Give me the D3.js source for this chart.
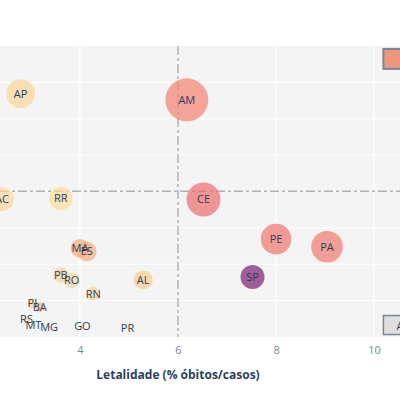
<!DOCTYPE html>
<html>
<head>
<meta charset="utf-8">
<script src="https://cdn.jsdelivr.net/npm/d3@7"></script>
<style>
  body { margin: 0; background: #fff; }
  text { font-family: "Open Sans", sans-serif; }
</style>
</head>
<body>
<div id="canvas"></div>
<script>
// estados, letalidade (%), incidencia, mortalidade (tamanho) e obitos (cor)
const estados = ['AP', 'AM', 'AC', 'RR', 'CE', 'PE', 'PA', 'SP', 'MA', 'ES', 'PB', 'RO', 'RN', 'AL', 'PI', 'BA', 'RS', 'MT', 'MG', 'GO', 'PR'];
const letalidade = [2.79, 6.18, 2.41, 3.61, 6.52, 8.00, 9.04, 7.52, 4.00, 4.14, 3.61, 3.83, 4.27, 5.29, 3.03, 3.18, 2.91, 3.05, 3.37, 4.05, 4.97];
const incidencia = [66.9, 65.2, 37.9, 38.1, 37.8, 26.9, 24.8, 16.5, 24.4, 23.5, 17.0, 15.6, 11.9, 15.7, 9.2, 8.2, 4.9, 3.3, 2.7, 3.1, 2.6];
const mortalidade = [182, 411, 124, 122, 257, 208, 222, 128, 78, 84, 52, 50, 42, 80, 22, 22, 8, 5.6, 2, 2, 1.3];
const obitos = [0.3, 3.1, 0.2, 0.1, 3.9, 3.6, 3.4, 10.6, 1.6, 1.5, 0.4, 0.3, 0.3, 0.6, 0.2, 0.9, 0.3, 0.1, 0.5, 0.1, 0.2];

const xTicks = [2, 4, 6, 8, 10];
const yTicks = [10, 20, 30, 40, 50, 60, 70];
const mediaLetalidade = 6.0;
const mediaIncidencia = 40.1;

const sunsetdark = ['rgb(252,222,156)', 'rgb(250,164,118)', 'rgb(240,116,110)', 'rgb(227,79,111)', 'rgb(220,57,119)', 'rgb(185,37,122)', 'rgb(124,29,111)'];

const data = estados.map((uf, i) => ({
    uf: uf, x: letalidade[i], y: incidencia[i], size: mortalidade[i], c: obitos[i]
}));

const width = 400, height = 400;
const canvas = d3.select('#canvas').append('svg').attr('width', width).attr('height', height);

const x = d3.scaleLinear().domain([0.9, 11.1]).range([-72, 428]);
const y = d3.scaleLinear().domain([0, 80]).range([337, 46]);
const r = d3.scaleSqrt().domain([0, 1]).range([0, 1.06]);
const cMax = d3.max(obitos);
const color = d3.scaleLinear()
    .domain(sunsetdark.map((d, i) => i / (sunsetdark.length - 1) * cMax))
    .range(sunsetdark)
    .interpolate(d3.interpolateRgb);

canvas.append('rect')
    .attr('x', x.range()[0]).attr('y', y.range()[1])
    .attr('width', x.range()[1] - x.range()[0])
    .attr('height', y.range()[0] - y.range()[1])
    .attr('fill', '#f4f4f4');

const grid = canvas.append('g');
grid.selectAll('.vx').data(xTicks).join('line')
    .attr('x1', d => x(d)).attr('x2', d => x(d))
    .attr('y1', y.range()[1]).attr('y2', y.range()[0])
    .attr('stroke', '#ffffff').attr('stroke-width', 1);
grid.selectAll('.hy').data(yTicks).join('line')
    .attr('x1', x.range()[0]).attr('x2', x.range()[1])
    .attr('y1', d => y(d)).attr('y2', d => y(d))
    .attr('stroke', '#ffffff').attr('stroke-width', 1);

// linhas de media
canvas.append('line')
    .attr('x1', x(mediaLetalidade)).attr('x2', x(mediaLetalidade))
    .attr('y1', y.range()[1]).attr('y2', y.range()[0])
    .attr('stroke', '#b0b0b0').attr('stroke-width', 1.5)
    .attr('stroke-dasharray', '9 3 3 3');
canvas.append('line')
    .attr('x1', x.range()[0]).attr('x2', x.range()[1])
    .attr('y1', y(mediaIncidencia)).attr('y2', y(mediaIncidencia))
    .attr('stroke', '#b0b0b0').attr('stroke-width', 1.5)
    .attr('stroke-dasharray', '9 3 3 3');

const xAxis = canvas.append('g')
    .attr('transform', 'translate(0,' + y.range()[0] + ')')
    .call(d3.axisBottom(x).tickValues(xTicks.filter(d => x(d) > 0)).tickSize(0).tickPadding(9));
xAxis.select('.domain').remove();
xAxis.selectAll('text')
    .attr('fill', '#7a869a')
    .style('font-size', '11px');

canvas.append('text')
    .attr('x', x(6)).attr('y', 379)
    .attr('text-anchor', 'middle')
    .attr('fill', '#2a3f5f')
    .style('font-size', '12px').style('font-weight', 'bold')
    .text('Letalidade (% óbitos/casos)');

const pontos = canvas.append('g');
pontos.selectAll('circle').data(data).join('circle')
    .attr('cx', d => x(d.x)).attr('cy', d => y(d.y))
    .attr('r', d => r(d.size))
    .attr('fill', d => color(d.c))
    .attr('opacity', 0.7);
pontos.selectAll('text').data(data).join('text')
    .attr('x', d => x(d.x)).attr('y', d => y(d.y))
    .attr('dy', '0.36em')
    .attr('text-anchor', 'middle')
    .attr('fill', '#2a3f5f')
    .style('font-size', '11px')
    .text(d => d.uf);

// rotulos dos quadrantes
const quadrantes = canvas.append('g');
quadrantes.append('rect')
    .attr('x', x(10.19)).attr('y', y(79.2))
    .attr('width', 120).attr('height', 20)
    .attr('fill', '#ec967c').attr('stroke', '#7a8599').attr('stroke-width', 2);
quadrantes.append('text')
    .attr('x', x(10.19) + 24).attr('y', y(79.2) + 14)
    .attr('fill', '#2a3f5f').style('font-size', '11px')
    .text('Alta incidência');
quadrantes.append('rect')
    .attr('x', x(10.19)).attr('y', y(5.9))
    .attr('width', 120).attr('height', 19)
    .attr('fill', '#dedede').attr('stroke', '#7a8599').attr('stroke-width', 1.5);
quadrantes.append('text')
    .attr('x', x(10.19) + 13).attr('y', y(5.9) + 14)
    .attr('fill', '#2a3f5f').style('font-size', '11px')
    .text('Alta letalidade');
</script>
</body>
</html>
